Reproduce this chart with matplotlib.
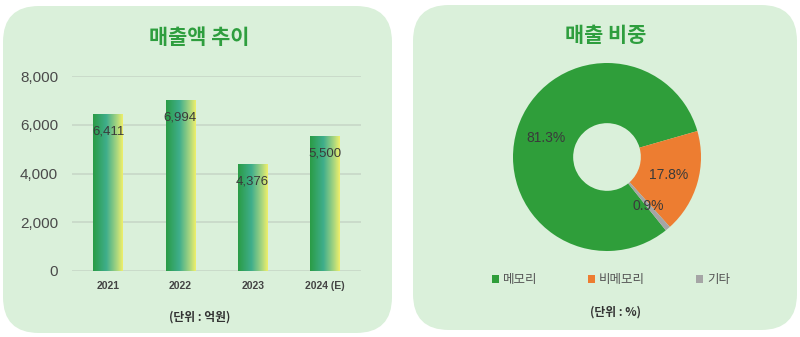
import matplotlib
matplotlib.use("Agg")
import matplotlib.pyplot as plt
import numpy as np
from matplotlib.colors import LinearSegmentedColormap
from matplotlib.patches import FancyBboxPatch, Patch

# latin/digits from Liberation Sans, hangul falls through to Noto CJK
plt.rcParams['font.family'] = ['Liberation Sans', 'Noto Sans CJK KR', 'DejaVu Sans']
KR = ['Noto Sans CJK KR', 'DejaVu Sans']

# sales trend (unit: 100M KRW)
years = ['2021', '2022', '2023', '2024 (E)']
sales = [6411, 6994, 4376, 5500]
y_ticks = [0, 2000, 4000, 6000, 8000]

# sales mix (%)
segments = ['메모리', '비메모리', '기타']
shares = [81.3, 17.8, 0.9]
seg_colors = ['#2f9e3a', '#ed7d31', '#a5a5a5']

W, H = 800, 337
TITLE_GREEN = '#2e9e3e'
PANEL = '#daf0da'

fig = plt.figure(figsize=(W / 100, H / 100), dpi=100)
fig.patch.set_facecolor('white')


def px_axes(x0, y0, x1, y1):
    # axes placed by pixel box (top-left origin)
    return fig.add_axes([x0 / W, 1 - y1 / H, (x1 - x0) / W, (y1 - y0) / H])


# background layer in pixel coordinates
bg = fig.add_axes([0, 0, 1, 1], zorder=-5)
bg.set_xlim(0, W)
bg.set_ylim(H, 0)
bg.axis('off')
for x0, y0, x1, y1 in [(3, 6, 392, 333), (413, 5, 797, 330)]:
    bg.add_patch(FancyBboxPatch((x0, y0), x1 - x0, y1 - y0,
                                boxstyle='round,pad=0,rounding_size=36',
                                facecolor=PANEL, edgecolor='none'))

bg.text(199, 37, '매출액 추이', ha='center', va='center', fontsize=15,
        fontweight='bold', color=TITLE_GREEN, family=KR)
bg.text(200, 317, '(단위 : 억원)', ha='center', va='center', fontsize=8.5,
        fontweight='bold', color='#333333', family=KR)
bg.text(606, 35, '매출 비중', ha='center', va='center', fontsize=15,
        fontweight='bold', color=TITLE_GREEN, family=KR)
bg.text(616, 312, '(단위 : %)', ha='center', va='center', fontsize=8.5,
        fontweight='bold', color='#333333', family=KR)

# ---- bar chart ----
ax = px_axes(72, 76, 361, 271)
ax.set_facecolor('none')
x = np.arange(len(years))
bars = ax.bar(x, sales, width=0.41, color='none', zorder=3)

grad = LinearSegmentedColormap.from_list(
    'bar', [(0, '#2a9c45'), (0.45, '#3fae8c'), (0.8, '#a9d67f'), (1, '#f0f06a')])
ramp = np.linspace(0, 1, 256).reshape(1, -1)
for b, v in zip(bars, sales):
    bx, bw = b.get_x(), b.get_width()
    ax.imshow(ramp, cmap=grad, aspect='auto', extent=[bx, bx + bw, 0, v],
              zorder=3, interpolation='bilinear')
    ax.annotate(f'{v:,}', (bx + bw / 2, v), xytext=(0, -17),
                textcoords='offset pixels', ha='center', va='center',
                fontsize=9.5, color='#3a3a3a', zorder=4)

ax.set_xlim(-0.5, len(years) - 0.5)
ax.set_ylim(0, 8000)
ax.set_yticks(y_ticks)
ax.set_yticklabels([f'{t:,}' for t in y_ticks], fontsize=11, color='#4a4a4a')
ax.set_xticks(x)
ax.set_xticklabels(years, fontsize=7.5, fontweight='bold', color='#444444')
ax.tick_params(axis='y', length=0, pad=10)
ax.tick_params(axis='x', length=0, pad=7)
ax.grid(axis='y', color='#c9d9c9', linewidth=1.3, zorder=0)
ax.set_axisbelow(True)
for s in ax.spines.values():
    s.set_visible(False)

# ---- donut chart ----
cx, cy, r = 607, 157, 94
pax = px_axes(cx - r, cy - r, cx + r, cy + r)
wedges, texts, autotexts = pax.pie(
    shares, colors=seg_colors, startangle=308.7, counterclock=False,
    radius=1, wedgeprops=dict(width=0.64, linewidth=0),
    autopct=lambda p: f'{p:.1f}%', pctdistance=0.68,
    textprops=dict(fontsize=10, color='#3a3a3a'))
pax.set_xlim(-1, 1)
pax.set_ylim(-1, 1)
pax.set_aspect('equal')
pax.axis('off')

handles = [Patch(facecolor=c, edgecolor='none') for c in seg_colors]
leg = fig.legend(handles, segments, loc='center', ncol=3,
                 bbox_to_anchor=(611 / W, 1 - 280 / H), frameon=False,
                 prop={'family': KR, 'size': 9}, handlelength=0.55,
                 handleheight=0.55, handletextpad=0.3, columnspacing=4.1)
for t in leg.get_texts():
    t.set_color('#555555')

fig.savefig('out.png', dpi=100)
